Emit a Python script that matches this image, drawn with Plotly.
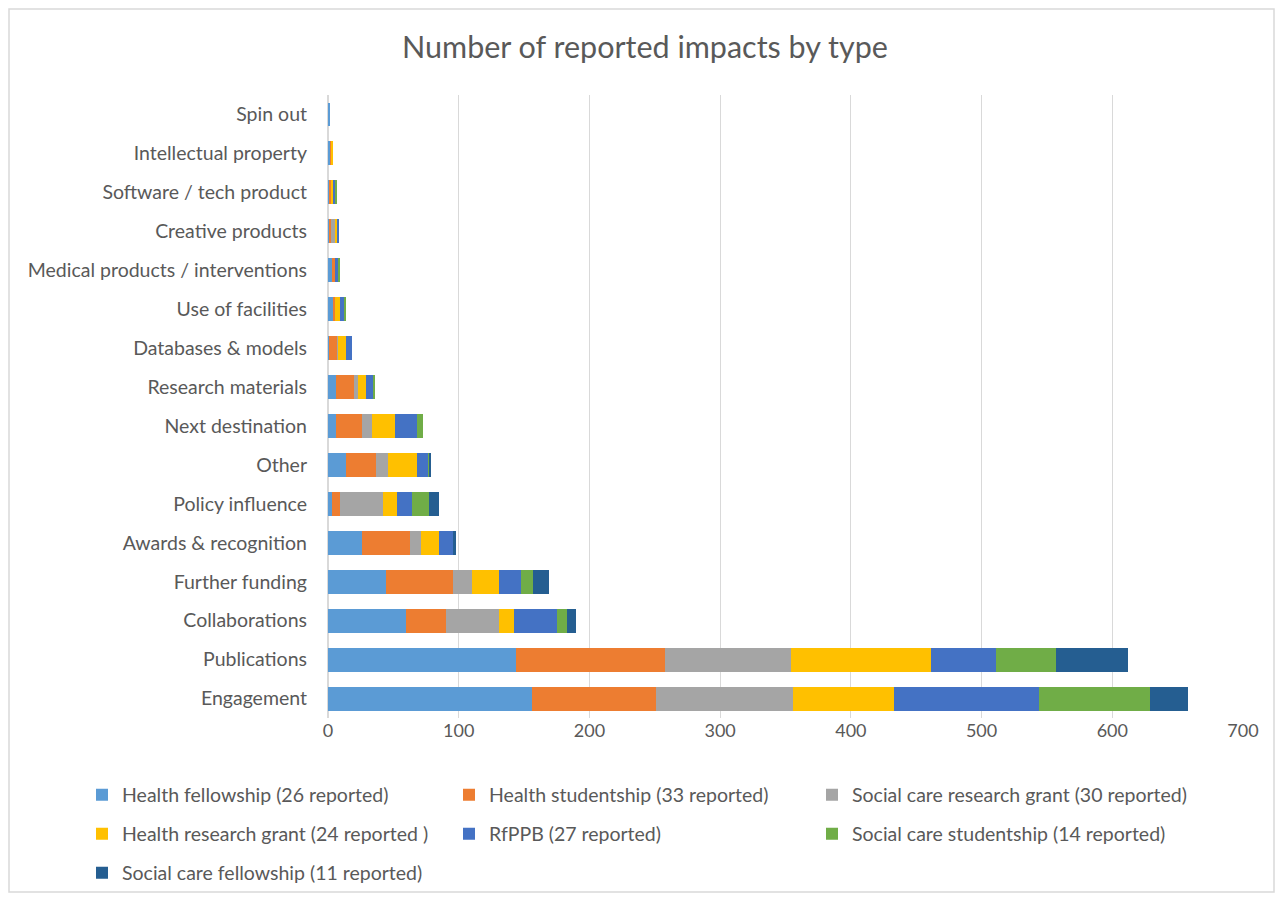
import plotly.graph_objects as go

categories = ["Engagement", "Publications", "Collaborations", "Further funding",
              "Awards & recognition", "Policy influence", "Other", "Next destination",
              "Research materials", "Databases & models", "Use of facilities",
              "Medical products / interventions", "Creative products",
              "Software / tech product", "Intellectual property", "Spin out"]

health_fellowship = [156, 144, 60, 44, 26, 3, 14, 6, 6, 1, 4, 3, 1, 1, 2, 1]
health_studentship = [95, 114, 30, 52, 37, 6, 23, 20, 14, 6, 1, 2, 1, 1, 1, 0]
social_care_research_grant = [105, 96, 41, 14, 8, 33, 9, 8, 3, 1, 0, 0, 4, 0, 0, 0]
health_research_grant = [77, 107, 11, 21, 14, 11, 22, 17, 6, 6, 4, 0, 1, 2, 1, 0]
rfppb = [111, 50, 33, 17, 11, 11, 9, 17, 6, 4, 4, 3, 1, 2, 0, 0]
social_care_studentship = [85, 46, 8, 9, 0, 13, 1, 5, 1, 0, 1, 1, 0, 1, 0, 0]
social_care_fellowship = [29, 55, 7, 12, 2, 8, 1, 0, 0, 0, 0, 0, 0, 0, 0, 0]

series_names = ["Health fellowship (26 reported)", "Health studentship (33 reported)",
                "Social care research grant (30 reported)", "Health research grant (24 reported )",
                "RfPPB (27 reported)", "Social care studentship (14 reported)",
                "Social care fellowship (11 reported)"]
series_values = [health_fellowship, health_studentship, social_care_research_grant,
                 health_research_grant, rfppb, social_care_studentship, social_care_fellowship]
colors = ["#5B9BD5", "#ED7D31", "#A5A5A5", "#FFC000", "#4472C4", "#70AD47", "#255E91"]

FONT = "Lato"
GREY = "#595959"
OFF = 8  # page offset of the figure in the browser

W, H = 1283 - 2 * OFF, 901 - 2 * OFF
# desired page positions of plot area
PL, PR, PT, PB = 328, 1243, 95, 718
L, T = PL - OFF, PT - OFF
R, B = W - (PR - OFF), H - (PB - OFF)
pw, ph = W - L - R, H - T - B

def px_x(p):
    return (p - PL) / pw

def px_y(p):
    return (PB - p) / ph

# legend grid (page pixels): 3 columns x 3 rows
legend_cols = [82, 449, 812]
legend_rows = [795, 834, 873]

fig = go.Figure()
legend_layout = {}
for i, (name, vals, col) in enumerate(zip(series_names, series_values, colors)):
    lid = "legend" if i == 0 else f"legend{i + 1}"
    fig.add_trace(go.Bar(
        y=categories, x=vals, name=name, orientation="h",
        marker=dict(color=col, line=dict(width=0)),
        legend=lid, showlegend=True,
    ))
    legend_layout[lid] = dict(
        x=px_x(legend_cols[i % 3]), y=px_y(legend_rows[i // 3]),
        orientation="h", xanchor="left", yanchor="middle",
        font=dict(family=FONT, size=19.5, color=GREY),
        bgcolor="rgba(0,0,0,0)", itemclick=False,
    )

fig.update_layout(
    width=W, height=H,
    showlegend=True,
    margin=dict(l=L, r=R, t=T, b=B, autoexpand=False),
    paper_bgcolor="white", plot_bgcolor="white",
    barmode="stack", bargap=0.385,
    title=dict(text="Number of reported impacts by type", xref="container",
               x=(645 - OFF) / W, xanchor="center",
               yref="container", y=1 - (47 - OFF) / H, yanchor="middle",
               font=dict(family=FONT, size=30.5, color=GREY)),
    font=dict(family=FONT, color=GREY),
    xaxis=dict(range=[0, 700], dtick=100, showgrid=True, gridcolor="#D9D9D9", gridwidth=1.3,
               zeroline=True, zerolinecolor="#D9D9D9", zerolinewidth=1.5,
               showline=False, ticks="",
               tickfont=dict(family=FONT, size=18, color=GREY)),
    yaxis=dict(type="category", categoryorder="array", categoryarray=categories,
               showgrid=False, ticks="", showline=False, ticklabelstandoff=20,
               tickfont=dict(family=FONT, size=19.5, color=GREY)),
    shapes=[dict(type="rect", xref="paper", yref="paper",
                 x0=-(L - 1) / pw, x1=1 + (R - 1) / pw,
                 y0=-(B - 1) / ph, y1=1 + (T - 1) / ph,
                 line=dict(color="#D9D9D9", width=1.5), fillcolor="rgba(0,0,0,0)",
                 layer="below")],
    **legend_layout,
)

fig.write_html("out.html")
